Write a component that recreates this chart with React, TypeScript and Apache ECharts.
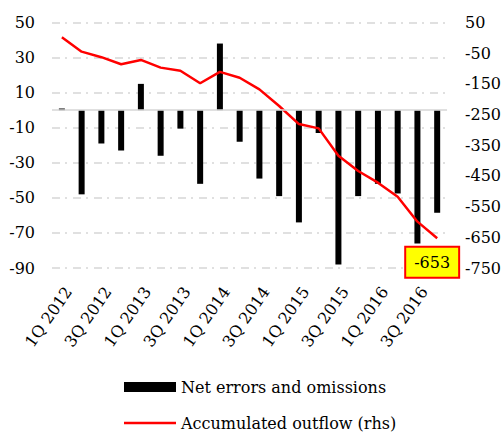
import React, { useEffect, useRef } from "react";
import * as echarts from "echarts";

const quarters = [
  "1Q 2012", "2Q 2012", "3Q 2012", "4Q 2012",
  "1Q 2013", "2Q 2013", "3Q 2013", "4Q 2013",
  "1Q 2014", "2Q 2014", "3Q 2014", "4Q 2014",
  "1Q 2015", "2Q 2015", "3Q 2015", "4Q 2015",
  "1Q 2016", "2Q 2016", "3Q 2016", "4Q 2016",
];

const netErrors = [
  1, -48, -19, -23, 15, -26, -10.5, -42, 38, -18,
  -39, -49, -64, -13, -88, -49, -42, -47.5, -76, -58.5,
];

const accumulated = [
  2, -45, -63, -86, -72, -97, -107, -148, -111, -130,
  -168, -222, -281, -295, -384, -434, -472, -518, -599, -653,
];

const leftTickLabels = [-90, -70, -50, -30, -10, 10, 30, 50];
const rightTickLabels = [-750, -650, -550, -450, -350, -250, -150, -50, 50];

const FONT = "DejaVu Serif";
const GRID_COLOR = "#d6d6d6";

export default function App() {
  const ref = useRef<HTMLDivElement>(null);

  useEffect(() => {
    document.body.style.margin = "0";
    if (!ref.current) return;
    const chart = echarts.init(ref.current, undefined, { renderer: "svg" });

    const leftMin = leftTickLabels[0];
    const leftMax = leftTickLabels[leftTickLabels.length - 1];
    const rightMin = rightTickLabels[0];
    const rightMax = rightTickLabels[rightTickLabels.length - 1];

    const splitColors: string[] = [];
    for (let v = leftMin; v <= leftMax; v += 10) {
      splitColors.push(leftTickLabels.includes(v) ? GRID_COLOR : "rgba(0,0,0,0)");
    }

    const lastIdx = accumulated.length - 1;

    chart.setOption({
      animation: false,
      grid: { left: 52, right: 56, top: 22.5, bottom: 166, containLabel: false },
      legend: {
        orient: "vertical",
        left: 124,
        top: 377,
        padding: 0,
        itemWidth: 52,
        itemHeight: 10,
        itemGap: 16,
        textStyle: { fontFamily: FONT, fontSize: 16, color: "#000", lineHeight: 20 },
        data: [
          { name: "Net errors and omissions", icon: "rect" },
          { name: "Accumulated outflow (rhs)", icon: "path://M0,0 L52,0 L52,2.5 L0,2.5 Z" },
        ],
      },
      xAxis: {
        type: "category",
        data: quarters,
        axisLine: { show: false, onZero: false },
        axisTick: { show: false },
        axisLabel: {
          interval: 1,
          rotate: 55,
          margin: 16,
          verticalAlign: "top",
          fontFamily: FONT,
          fontSize: 16,
          color: "#000",
        },
        splitLine: { show: false },
      },
      yAxis: [
        {
          type: "value",
          min: leftMin,
          max: leftMax,
          interval: 10,
          position: "left",
          axisLine: { show: false },
          axisTick: { show: false },
          axisLabel: {
            margin: 17,
            fontFamily: FONT,
            fontSize: 16,
            color: "#000",
            formatter: (v: number) => (leftTickLabels.includes(v) ? String(v) : ""),
          },
          splitLine: {
            show: true,
            lineStyle: { color: splitColors, width: 1.5, type: [8, 5, 2, 6] },
          },
        },
        {
          type: "value",
          min: rightMin,
          max: rightMax,
          interval: 50,
          position: "right",
          axisLine: { show: false },
          axisTick: { show: false },
          axisLabel: {
            margin: 18,
            fontFamily: FONT,
            fontSize: 16,
            color: "#000",
            formatter: (v: number) => (rightTickLabels.includes(v) ? String(v) : ""),
          },
          splitLine: { show: false },
        },
      ],
      series: [
        {
          name: "Net errors and omissions",
          type: "bar",
          yAxisIndex: 0,
          data: netErrors,
          barWidth: 6,
          itemStyle: { color: "#000" },
          markLine: {
            silent: true,
            symbol: ["none", "none"],
            label: { show: false },
            lineStyle: { color: GRID_COLOR, type: "solid", width: 1.5 },
            data: [{ yAxis: 0 }],
          },
        },
        {
          name: "Accumulated outflow (rhs)",
          type: "line",
          yAxisIndex: 1,
          data: accumulated,
          symbol: "none",
          lineStyle: { color: "#ff0000", width: 2.5 },
          itemStyle: { color: "#ff0000" },
          markPoint: {
            silent: true,
            symbol: "circle",
            symbolSize: 2,
            itemStyle: { color: "rgba(0,0,0,0)" },
            data: [{ coord: [quarters[lastIdx], accumulated[lastIdx]], value: accumulated[lastIdx] }],
            label: {
              show: true,
              position: "inside",
              offset: [-5, 24],
              formatter: (p: any) => String(p.value),
              fontFamily: FONT,
              fontSize: 16,
              color: "#000",
              backgroundColor: "#ffff00",
              borderColor: "#ff0000",
              borderWidth: 2,
              padding: [6, 8, 5, 8],
              lineHeight: 18,
            },
          },
        },
      ],
    });

    return () => chart.dispose();
  }, []);

  return <div ref={ref} style={{ width: 504, height: 434 }} />;
}
